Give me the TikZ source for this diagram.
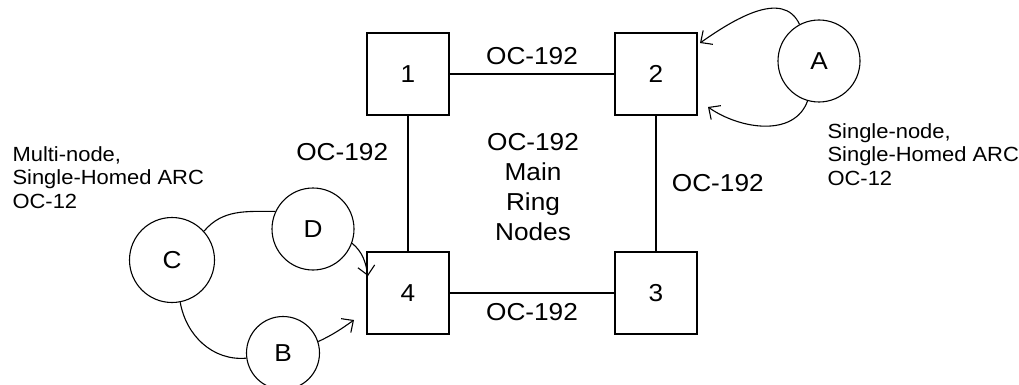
\documentclass[tikz,border=0pt]{standalone}
\usepackage{fontspec}
\setmainfont[FakeStretch=1.07]{Liberation Sans}
\usetikzlibrary{arrows.meta}

\begin{document}
\begin{tikzpicture}[x=1pt, y=1pt, node distance=248pt, line width=1.1pt,
          main/.style = {draw, rectangle, minimum size=82pt, font=\fontsize{24.5}{30}\selectfont},
          site/.style = {draw, circle, minimum size=82pt, font=\fontsize{24.5}{30}\selectfont},
          aedge/.style = {-{Straight Barb[length=9pt, width=17pt]}},
          lbl/.style = {font=\fontsize{24.5}{30}\selectfont},
          note/.style = {align=left, font=\fontsize{20.5}{23.5}\selectfont, inner sep=0pt}]
        \useasboundingbox (0,0) rectangle (1019,-385);
        % main ring
        \node[main] (n1) at (408,-74) {1};
        \node[main] (n2) [right of=n1] {2};
        \node[main] (n4) [below of=n1, node distance=219pt] {4};
        \node[main] (n3) [right of=n4] {3};
        \draw (n1) -- node[lbl, above=5pt] {OC-192} (n2);
        \draw (n4) -- node[lbl, below=7pt] {OC-192} (n3);
        \draw (n1) -- node[lbl, pos=.27, left=16pt] {OC-192} (n4);
        \draw (n2) -- node[lbl, pos=.5, right=12pt] {OC-192} (n3);
        \node[lbl, align=center] (ring) at (533,-187) {OC-192\\Main\\Ring\\Nodes};
        % single-node ARC
        \node[site] (a) at (819,-61) {A};
        \coordinate (a1) at (700,-43);
        \coordinate (a2) at (708,-107);
        \draw[aedge] (a.118) to[out=115, in=35] (a1);
        \draw[aedge] (a.254) to[out=250, in=-35] (a2);
        \node[note, anchor=north west] (anote) at (827,-123) {Single-node,\\Single-Homed ARC\\OC-12};
        % multi-node ARC
        \node[site, minimum size=85pt] (c) at (172,-260) {C};
        \node[site] (d) at (313,-229) {D};
        \node[site, minimum size=73pt] (b) at (283,-353) {B};
        \coordinate (d1) at (368,-276);
        \coordinate (b1) at (354,-320);
        \draw (c.42) to[out=50, in=180] (d.155);
        \draw (c.281) to[out=-80, in=185] (b.188);
        \draw[aedge] (d.-20) to[out=-40, in=100] (d1);
        \draw[aedge] (b.18) to[out=25, in=215] (b1);
        \node[note, anchor=north west] (cnote) at (12,-146) {Multi-node,\\Single-Homed ARC\\OC-12};
      \end{tikzpicture}
\end{document}
